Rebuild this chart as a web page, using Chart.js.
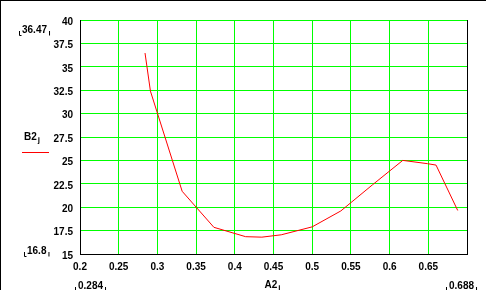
<!DOCTYPE html>
<html>
<head>
<meta charset="utf-8">
<script src="https://cdn.jsdelivr.net/npm/chart.js@4"></script>
<style>
  html, body { margin: 0; padding: 0; background: #fff; }
  canvas { display: block; }
</style>
</head>
<body>
<canvas id="c" width="486" height="290"></canvas>
<script>
// ---- data ----
const xValues = [0.284, 0.291, 0.332, 0.373, 0.414, 0.435, 0.460, 0.500, 0.537, 0.578, 0.617, 0.649, 0.660, 0.688];
const yValues = [36.47, 32.40, 21.70, 17.85, 16.85, 16.80, 17.05, 17.90, 19.60, 22.40, 25.00, 24.65, 24.50, 19.65];
const xTickLabels = ['0.2','0.25','0.3','0.35','0.4','0.45','0.5','0.55','0.6','0.65',''];
const yTickLabels = ['15','17.5','20','22.5','25','27.5','30','32.5','35','37.5','40'];
const xName = 'A2';
const yName = 'B2';
const indexName = 'j';
const xMinLabel = '0.284', xMaxLabel = '0.688';
const yMinLabel = '16.8',  yMaxLabel = '36.47';

const points = xValues.map((x, i) => ({ x: x, y: yValues[i] }));
const FONT = 'Liberation Sans';

const extras = {
  id: 'extras',
  afterDraw(chart) {
    const ctx = chart.ctx;
    const a = chart.chartArea;
    ctx.save();
    // right frame of plot
    ctx.strokeStyle = '#000';
    ctx.lineWidth = 1;
    ctx.beginPath();
    ctx.moveTo(Math.round(a.right) + 0.5, a.top);
    ctx.lineTo(Math.round(a.right) + 0.5, a.bottom + 1);
    ctx.stroke();
    // window frame (top + left)
    ctx.beginPath();
    ctx.moveTo(0, 0.5); ctx.lineTo(chart.width, 0.5);
    ctx.moveTo(0.5, 0); ctx.lineTo(0.5, chart.height);
    ctx.stroke();

    ctx.fillStyle = '#000';
    ctx.font = 'bold 10px "' + FONT + '"';
    ctx.textBaseline = 'middle';

    function marked(text, x, y, align) {
      ctx.textAlign = align;
      const w = ctx.measureText(text).width;
      const left = align === 'center' ? x - w / 2 : (align === 'right' ? x - w : x);
      ctx.fillText(text, x, y);
      ctx.beginPath();
      ctx.moveTo(left - 2.5, y + 1); ctx.lineTo(left - 2.5, y + 5.5); ctx.lineTo(left - 0.5, y + 5.5);
      ctx.moveTo(left + w + 2.5, y + 1); ctx.lineTo(left + w + 2.5, y + 5.5);
      ctx.stroke();
    }
    // y limits
    marked(yMaxLabel, 22, 30, 'left');
    marked(yMinLabel, 27, 251, 'left');
    // x limits
    marked(xMinLabel, 78, 286, 'left');
    marked(xMaxLabel, 449, 286, 'left');

    // axis names with subscripts
    function named(name, x, y) {
      ctx.textAlign = 'left';
      ctx.font = 'bold 10px "' + FONT + '"';
      ctx.fillText(name, x, y);
      const w = ctx.measureText(name).width;
      ctx.font = 'bold 8px "' + FONT + '"';
      ctx.fillText(indexName, x + w + 1, y + 3);
      return w;
    }
    named(yName, 24, 137);
    named(xName, (a.left + a.right) / 2 - 9, 285);

    // legend line sample
    ctx.strokeStyle = '#ff0000';
    ctx.beginPath();
    ctx.moveTo(22, 152.5); ctx.lineTo(49, 152.5);
    ctx.stroke();
    ctx.restore();
  }
};

new Chart(document.getElementById('c'), {
  type: 'scatter',
  data: {
    datasets: [{
      data: points,
      showLine: true,
      borderColor: '#ff0000',
      borderWidth: 1,
      pointRadius: 0,
      fill: false,
      tension: 0
    }]
  },
  options: {
    responsive: false,
    animation: false,
    events: [],
    layout: { padding: { top: 20, right: 19, left: 0, bottom: 0 } },
    plugins: { legend: { display: false }, tooltip: { enabled: false } },
    scales: {
      x: {
        type: 'linear', min: 0.2, max: 0.7,
        afterFit: s => { s.height = 36; },
        afterBuildTicks: s => { s.ticks = xTickLabels.map((_, i) => ({ value: 0.2 + i * 0.05 })); },
        ticks: {
          autoSkip: false, maxRotation: 0, padding: 7, color: '#000',
          font: { family: FONT, size: 10, weight: 'bold' },
          callback: (v, i) => xTickLabels[i]
        },
        grid: { color: '#00ff00', lineWidth: 1, drawTicks: false },
        border: { color: '#000', width: 1 }
      },
      y: {
        type: 'linear', min: 15, max: 40,
        afterFit: s => { s.width = 80; },
        afterBuildTicks: s => { s.ticks = yTickLabels.map((_, i) => ({ value: 15 + i * 2.5 })); },
        ticks: {
          autoSkip: false, padding: 7, color: '#000', labelOffset: 2,
          font: { family: FONT, size: 10, weight: 'bold' },
          callback: (v, i) => yTickLabels[i]
        },
        grid: { color: '#00ff00', lineWidth: 1, drawTicks: false },
        border: { color: '#000', width: 1 }
      }
    }
  },
  plugins: [extras]
});
</script>
</body>
</html>
